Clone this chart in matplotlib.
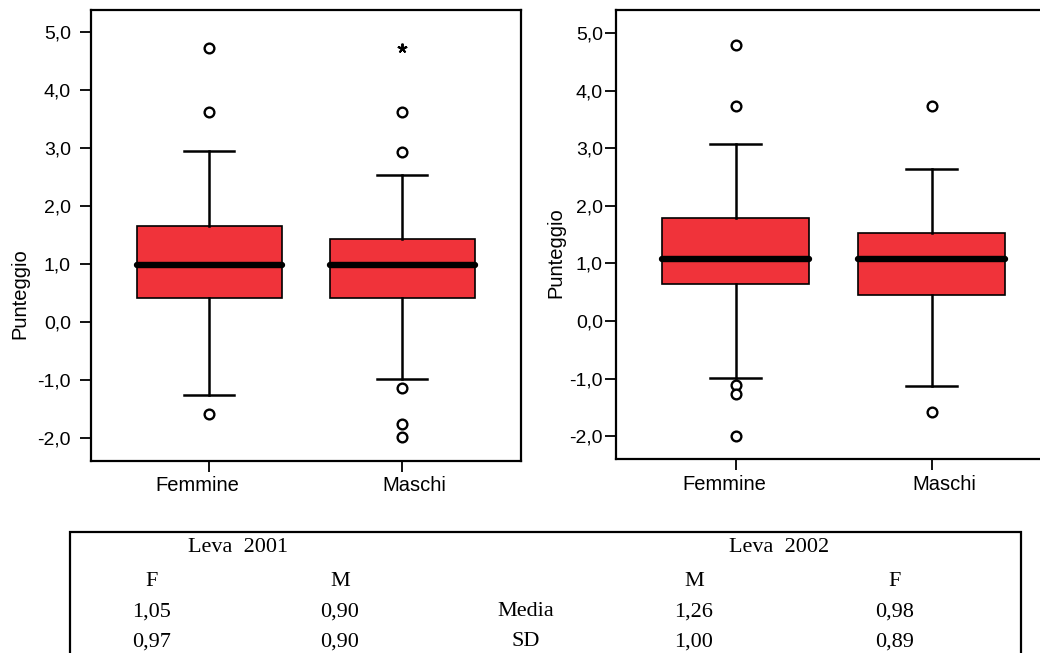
import numpy as np
import matplotlib
matplotlib.use('Agg')
import matplotlib.pyplot as plt
from matplotlib.patches import Rectangle
from matplotlib.transforms import offset_copy

plt.rcParams['font.family'] = ['Liberation Sans', 'DejaVu Sans']

# 组别
gruppi = ['Femmine', 'Maschi']

# Leva 2001 (左图) 箱线图数值
q1_2001 = [0.42, 0.42]
med_2001 = [0.99, 0.99]
q3_2001 = [1.66, 1.43]
wlo_2001 = [-1.26, -0.98]
whi_2001 = [2.95, 2.53]
out_2001 = [[4.72, 3.62, -1.58], [3.62, 2.93, -1.13, -1.76, -1.99]]
ext_2001 = [[], [4.72]]

# Leva 2002 (右图) 箱线图数值
q1_2002 = [0.64, 0.46]
med_2002 = [1.07, 1.07]
q3_2002 = [1.79, 1.52]
wlo_2002 = [-0.99, -1.12]
whi_2002 = [3.07, 2.64]
out_2002 = [[4.80, 3.73, -1.11, -1.26, -2.00], [3.73, -1.58]]
ext_2002 = [[], []]

yticks = [-2, -1, 0, 1, 2, 3, 4, 5]

# 表格内容
tab_header = ['F', 'M', '', 'M', 'F']
tab_media = ['1,05', '0,90', 'Media', '1,26', '0,98']
tab_sd = ['0,97', '0,90', 'SD', '1,00', '0,89']
tab_leva = ['Leva  2001', 'Leva  2002']

W, H = 1040, 653
fig = plt.figure(figsize=(W / 100, H / 100), dpi=100)


def px_ax(x0, y0, x1, y1):
    return fig.add_axes([x0 / W, 1 - y1 / H, (x1 - x0) / W, (y1 - y0) / H])


def draw_box(ax, q1, med, q3, wlo, whi, outl, ext, xlim, ylim, ypad, lab_xy, xlab_y):
    stats = []
    for i in range(len(gruppi)):
        stats.append(dict(med=med[i], q1=q1[i], q3=q3[i], whislo=wlo[i],
                          whishi=whi[i], fliers=outl[i], label=gruppi[i]))
    ax.bxp(stats, positions=[1, 2], widths=0.75, capwidths=0.26, patch_artist=True,
           boxprops=dict(facecolor='#F0333A', edgecolor='black', linewidth=1.2),
           whiskerprops=dict(color='black', linewidth=1.8),
           capprops=dict(color='black', linewidth=1.8),
           medianprops=dict(color='black', linewidth=4.6, solid_capstyle='round'),
           flierprops=dict(marker='o', markerfacecolor='white', markeredgecolor='black',
                           markersize=7, markeredgewidth=1.7))
    # 极端值（星号）
    for i in range(len(gruppi)):
        if ext[i]:
            ax.plot([i + 1] * len(ext[i]), ext[i], linestyle='none', marker=(5, 2, 0),
                    markersize=7, markeredgewidth=1.4, color='black')

    ax.set_xlim(*xlim)
    ax.set_ylim(*ylim)
    ax.set_yticks(yticks)
    ax.set_yticklabels([f"{t:.1f}".replace('.', ',') for t in yticks], fontsize=14)
    ax.set_xticks([1, 2])
    ax.set_xticklabels([])
    ax.tick_params(axis='y', direction='out', length=8, width=1.3, pad=ypad)
    ax.tick_params(axis='x', direction='out', length=8, width=1.3)
    for s in ax.spines.values():
        s.set_linewidth(1.6)

    # 类别标签（略微向外偏移）
    for pos, name, dx in zip([1, 2], gruppi, [-12, 12]):
        tr = offset_copy(ax.get_xaxis_transform(), fig=fig, x=dx, y=0, units='dots')
        ax.text(pos, xlab_y, name, transform=tr, ha='center', va='center', fontsize=14.5)

    ax.set_ylabel('Punteggio', fontsize=14.5)
    ax.yaxis.set_label_coords(*lab_xy)


ax1 = px_ax(91, 10, 521, 461)
draw_box(ax1, q1_2001, med_2001, q3_2001, wlo_2001, whi_2001, out_2001, ext_2001,
         xlim=(0.387, 2.615), ylim=(-2.397, 5.379), ypad=6.5,
         lab_xy=(-0.143, 0.371), xlab_y=-0.055)

ax2 = px_ax(616, 10, 1046, 458.5)
draw_box(ax2, q1_2002, med_2002, q3_2002, wlo_2002, whi_2002, out_2002, ext_2002,
         xlim=(0.388, 2.582), ylim=(-2.387, 5.40), ypad=1.5,
         lab_xy=(-0.118, 0.459), xlab_y=-0.059)

# 下方统计表
rect = Rectangle((70 / W, -0.05), (1021 - 70) / W, 1 - 532 / H + 0.05,
                 transform=fig.transFigure, fill=False, edgecolor='black',
                 linewidth=1.6, clip_on=False)
fig.add_artist(rect)

col_x = [152, 340, 525.5, 694, 895]
leva_x = [238, 779]
row_y = [548, 581, 612, 642]
tfont = dict(family=['Liberation Serif', 'DejaVu Serif'], fontsize=16,
             ha='center', va='center')

for x, t in zip(leva_x, tab_leva):
    fig.text(x / W, 1 - row_y[0] / H, t, **tfont)
for row, y in zip([tab_header, tab_media, tab_sd], row_y[1:]):
    for x, t in zip(col_x, row):
        if t:
            fig.text(x / W, 1 - y / H, t, **tfont)

plt.savefig('out.png', dpi=100)
